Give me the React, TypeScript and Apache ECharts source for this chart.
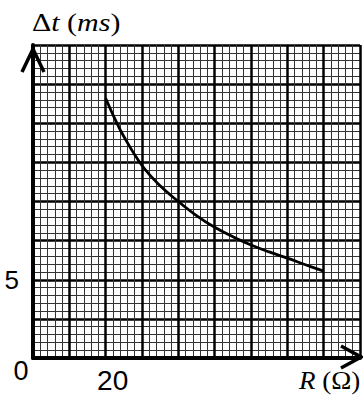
import React, { useEffect, useRef } from "react";
import * as echarts from "echarts";

// Data (R in Ω, Δt in ms)
const R_VALUES = [20, 22.5, 25, 30, 35, 40, 45, 50, 55, 60, 65, 70, 75, 80];
const DT_VALUES = [16.6, 15.3, 14.15, 12.3, 11.0, 10.0, 9.1, 8.35, 7.75, 7.22, 6.78, 6.38, 5.96, 5.55];

// Axis ranges and the tick labels that are printed
const X_MIN = 0;
const X_MAX = 90;
const X_STEP = 10;
const Y_MIN = 0;
const Y_MAX = 20;
const Y_STEP = 2.5;
const X_TICK_LABELS = [20];
const Y_TICK_LABELS = [5];
const ORIGIN_LABEL = "0";

const W = 363;
const H = 409;
const GRID = { left: 33, top: 45, width: 327, height: 313 };

export default function App() {
  const ref = useRef<HTMLDivElement>(null);

  useEffect(() => {
    document.body.style.margin = "0";
    if (!ref.current) return;
    const chart = echarts.init(ref.current, null, { renderer: "svg", width: W, height: H });
    const digitFont = "Liberation Sans";
    const serif = "Liberation Serif";
    const gl = GRID.left;
    const gt = GRID.top;
    const gr = GRID.left + GRID.width;
    const gb = GRID.top + GRID.height;

    chart.setOption({
      animation: false,
      backgroundColor: "#ffffff",
      grid: { ...GRID, containLabel: false, show: false },
      xAxis: {
        type: "value",
        min: X_MIN,
        max: X_MAX,
        interval: X_STEP,
        axisLine: { show: true, onZero: false, lineStyle: { color: "#000", width: 4 } },
        axisTick: { show: false },
        minorTick: { show: false, splitNumber: 5 },
        axisLabel: {
          show: true,
          margin: 8,
          color: "#000",
          fontFamily: digitFont,
          fontSize: 28,
          padding: [0, 0, 0, 14],
          formatter: (v: number) => (X_TICK_LABELS.includes(v) ? String(v) : ""),
        },
        splitLine: { show: true, lineStyle: { color: "#000", width: 2.5 } },
        minorSplitLine: { show: true, lineStyle: { color: "#333", width: 1 } },
      },
      yAxis: {
        type: "value",
        min: Y_MIN,
        max: Y_MAX,
        interval: Y_STEP,
        axisLine: { show: true, onZero: false, lineStyle: { color: "#000", width: 4 } },
        axisTick: { show: false },
        minorTick: { show: false, splitNumber: 5 },
        axisLabel: {
          show: true,
          margin: 14,
          color: "#000",
          fontFamily: digitFont,
          fontSize: 26,
          formatter: (v: number) => (Y_TICK_LABELS.includes(v) ? String(v) : ""),
        },
        splitLine: { show: true, lineStyle: { color: "#000", width: 2.5 } },
        minorSplitLine: { show: true, lineStyle: { color: "#333", width: 1 } },
      },
      series: [
        {
          type: "line",
          data: R_VALUES.map((r, i) => [r, DT_VALUES[i]]),
          smooth: 0.4,
          showSymbol: false,
          lineStyle: { color: "#000", width: 2.8 },
          z: 5,
        },
      ],
      graphic: [
        {
          type: "polyline",
          shape: { points: [[gl - 11, gt + 27], [gl, gt + 4], [gl + 11, gt + 27]] },
          style: { stroke: "#000", lineWidth: 3.5, fill: "none" },
          z: 10,
        },
        {
          type: "polyline",
          shape: { points: [[gr - 19, gb - 12], [gr + 1, gb - 1], [gr - 19, gb + 10]] },
          style: { stroke: "#000", lineWidth: 3.5, fill: "none" },
          z: 10,
        },
        {
          type: "text",
          x: 21,
          y: 371,
          style: {
            text: ORIGIN_LABEL,
            fontFamily: digitFont,
            fontSize: 27,
            fill: "#000",
            align: "center",
            verticalAlign: "middle",
          },
        },
        {
          type: "text",
          x: 32,
          y: 22,
          scaleX: 1.2,
          style: {
            text: "{a|Δ}{b|t}{a| (}{b|ms}{a|)}",
            verticalAlign: "middle",
            fill: "#000",
            rich: {
              a: { fontFamily: serif, fontSize: 25, fill: "#000" },
              b: { fontFamily: serif, fontSize: 25, fontStyle: "italic", fill: "#000" },
            },
          },
        },
        {
          type: "text",
          x: 299,
          y: 381,
          scaleX: 1.08,
          style: {
            text: "{b|R}{a| (Ω)}",
            verticalAlign: "middle",
            fill: "#000",
            rich: {
              a: { fontFamily: serif, fontSize: 25, fill: "#000" },
              b: { fontFamily: serif, fontSize: 25, fontStyle: "italic", fill: "#000" },
            },
          },
        },
      ],
    });

    return () => {
      chart.dispose();
    };
  }, []);

  return (
    <div
      ref={ref}
      style={{ position: "fixed", left: 0, top: 0, width: W, height: H, background: "#fff" }}
    />
  );
}
